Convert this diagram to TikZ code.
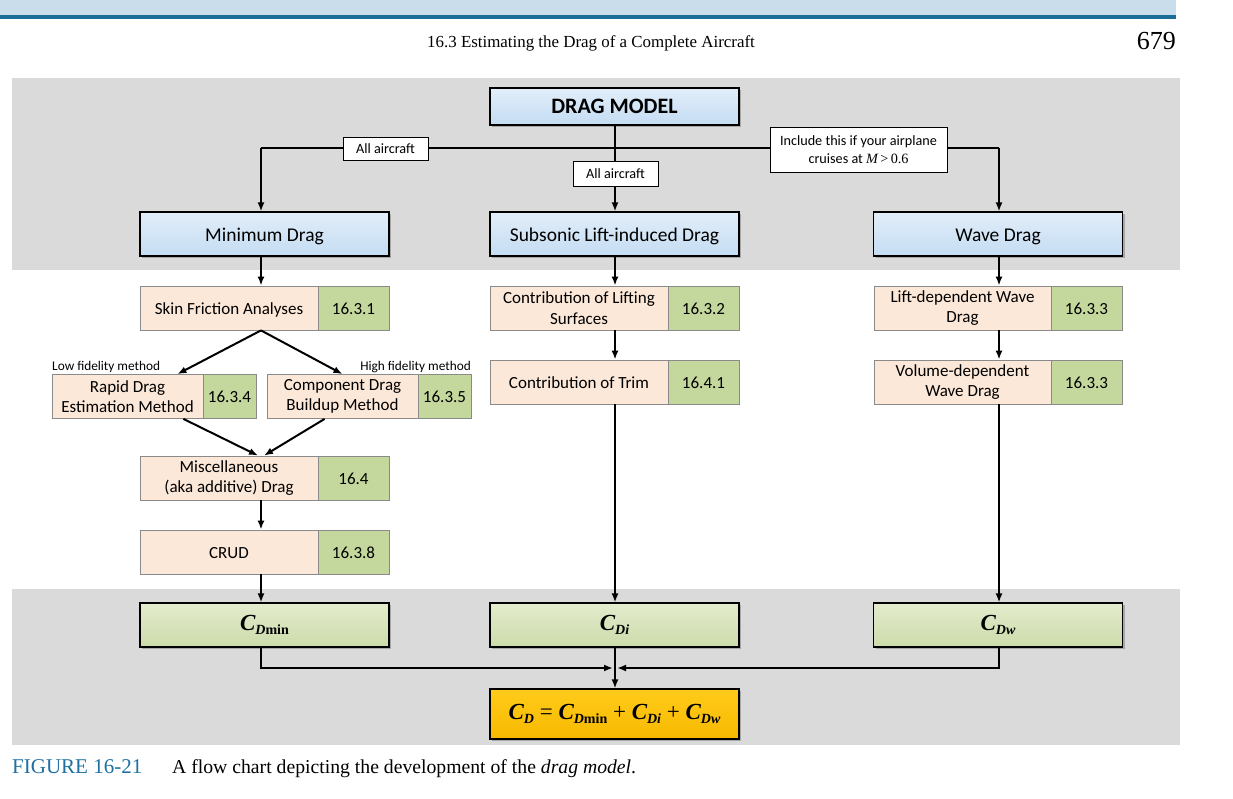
\documentclass[tikz,border=0pt]{standalone}
\usepackage{fontspec}
\setmainfont{Carlito}
\newfontfamily\serif{Liberation Serif}
\usetikzlibrary{arrows.meta,shadows,calc}
\definecolor{hband}{HTML}{C9DDEA}
\definecolor{hline}{HTML}{1A6E98}
\definecolor{capblue}{HTML}{1F6FA3}
\definecolor{panel}{HTML}{DADADA}
\definecolor{bluetop}{HTML}{E2EEFA}
\definecolor{bluebot}{HTML}{C4DCF2}
\definecolor{greentop}{HTML}{E3ECCD}
\definecolor{greenbot}{HTML}{CCDBAA}
\definecolor{goldtop}{HTML}{FFCB1A}
\definecolor{goldbot}{HTML}{F7B900}
\definecolor{peach}{HTML}{FCE8D8}
\definecolor{sect}{HTML}{C4D79D}
\definecolor{peachline}{HTML}{8A8A8A}
\newcommand{\Cs}[1]{{\serif\bfseries\itshape C}\raisebox{-0.45ex}{\serif\bfseries\fontsize{14}{14}\selectfont #1}}
\begin{document}
\begin{tikzpicture}[x=1pt,y=-1pt,
  bigbox/.style={draw=black, line width=1.1pt, inner sep=0pt, drop shadow={shadow xshift=2pt, shadow yshift=-2pt, opacity=0.55}},
  bluebox/.style={bigbox, top color=bluetop, bottom color=bluebot, minimum width=249pt, minimum height=44pt, text height=15pt, text depth=0pt, font=\fontsize{19.5}{22}\selectfont},
  greenbox/.style={bigbox, top color=greentop, bottom color=greenbot, minimum width=249pt, minimum height=44pt, font=\serif\fontsize{23}{26}\selectfont},
  goldbox/.style={bigbox, top color=goldtop, bottom color=goldbot, minimum width=249pt, minimum height=50pt, font=\serif\fontsize{23}{26}\selectfont},
  peachtwo/.style={draw=peachline, line width=0.8pt, fill=peach, inner sep=0pt, minimum height=44pt, align=center, font=\fontsize{17}{20.5}\selectfont},
  peachone/.style={draw=peachline, line width=0.8pt, fill=peach, inner sep=0pt, minimum height=44pt, text height=13.5pt, text depth=0.5pt, font=\fontsize{17}{20.5}\selectfont},
  sectbox/.style={draw=peachline, line width=0.8pt, fill=sect, inner sep=0pt, minimum height=44pt, text height=13.5pt, text depth=0.5pt, font=\fontsize{17}{20.5}\selectfont},
  labelbox/.style={draw=black, line width=0.8pt, fill=white, inner sep=0pt, align=center, font=\fontsize{14.2}{18}\selectfont},
  smalllabel/.style={inner sep=0pt, font=\fontsize{13.3}{15}\selectfont},
  conn/.style={line width=2pt, draw=black},
  arrow/.style={conn, -{Latex[length=9pt,width=7pt]}}]
\useasboundingbox (0,0) rectangle (1233,798);
\fill[white] (0,0) rectangle (1233,798);
% header
\fill[hband] (0,0) rectangle (1176,15);
\fill[hline] (0,15) rectangle (1176,19);
\node[anchor=base, inner sep=0pt, font=\serif\fontsize{16.9}{19}\selectfont] (hdr) at (591,47) {16.3 Estimating the Drag of a Complete Aircraft};
\node[anchor=base east, inner sep=0pt, font=\serif\fontsize{26}{28}\selectfont] (pg) at (1176,49) {679};
% panel
\fill[panel] (12,78) rectangle (1180,745);
\fill[white] (12,270) rectangle (1180,589);
% caption
\node[anchor=base west, inner sep=0pt, text=capblue, font=\serif\fontsize{21}{23}\selectfont] (fig) at (12,773) {FIGURE 16-21};
\node[anchor=base west, inner sep=0pt, font=\serif\fontsize{19.7}{22}\selectfont] (cap) at (172,773) {A flow chart depicting the development of the \textit{drag model}.};
% column coordinates
\coordinate (cL) at (261,0);
\coordinate (cM) at (615,0);
\coordinate (cR) at (999,0);
\coordinate (hL) at (261,148);
\coordinate (hR) at (999,148);
\coordinate (jL) at (261,668);
\coordinate (jM) at (615,668);
\coordinate (jR) at (999,668);
% top nodes
\node[bluebox, minimum height=37pt, text height=14pt, font=\bfseries\fontsize{22}{24}\selectfont] (dm) at (614.5,106.5) {DRAG MODEL};
\node[bluebox] (md) at (264.5,234) {Minimum Drag};
\node[bluebox] (sd) at (614.5,234) {Subsonic Lift-induced Drag};
\node[bluebox] (wd) at (998,234) {Wave Drag};
% left column
\node[peachone, minimum width=178pt] (skin) at (229,308) {Skin Friction Analyses};
\node[sectbox, minimum width=71pt] (skinN) at (353.5,308) {16.3.1};
\node[peachtwo, minimum width=151pt] (rapid) at (127.5,396.5) {Rapid Drag\\Estimation Method};
\node[sectbox, minimum width=53pt] (rapidN) at (229.5,396) {16.3.4};
\node[peachtwo, minimum width=151pt] (comp) at (342.5,396.5) {Component Drag\\Buildup Method};
\node[sectbox, minimum width=53pt] (compN) at (444.5,396) {16.3.5};
\node[smalllabel, anchor=base west] (lowf) at (52,370) {Low fidelity method};
\node[smalllabel, anchor=base east] (highf) at (471,370) {High fidelity method};
\node[peachtwo, minimum width=178pt] (misc) at (229,478) {Miscellaneous\\(aka additive) Drag};
\node[sectbox, minimum width=71pt] (miscN) at (353.5,478) {16.4};
\node[peachone, minimum width=178pt] (crud) at (229,552) {CRUD};
\node[sectbox, minimum width=71pt] (crudN) at (353.5,552) {16.3.8};
% middle column
\node[peachtwo, minimum width=178pt] (lift) at (579,308) {Contribution of Lifting\\Surfaces};
\node[sectbox, minimum width=71pt] (liftN) at (703.5,308) {16.3.2};
\node[peachone, minimum width=178pt] (trim) at (579,382) {Contribution of Trim};
\node[sectbox, minimum width=71pt] (trimN) at (703.5,382) {16.4.1};
% right column
\node[peachtwo, minimum width=177pt] (ldw) at (962.5,308) {Lift-dependent Wave\\Drag};
\node[sectbox, minimum width=71pt] (ldwN) at (1086.5,308) {16.3.3};
\node[peachtwo, minimum width=177pt] (vdw) at (962.5,382) {Volume-dependent\\Wave Drag};
\node[sectbox, minimum width=71pt] (vdwN) at (1086.5,382) {16.3.3};
% result nodes
\node[greenbox] (cmin) at (264.5,625) {\Cs{\textit{D}min}};
\node[greenbox] (cdi) at (614.5,625) {\Cs{\textit{Di}}};
\node[greenbox] (cdw) at (998,625) {\Cs{\textit{Dw}}};
\node[goldbox] (cd) at (614.5,714) {\Cs{\textit{D}} = \Cs{\textit{D}min} + \Cs{\textit{Di}} + \Cs{\textit{Dw}}};
% top connectors
\draw[conn] (hL) -- (hR);
\draw[arrow] (dm.south -| cM) -- (sd.north -| cM);
\draw[arrow] (hL) -- (md.north -| hL);
\draw[arrow] (hR) -- (wd.north -| hR);
\node[labelbox, minimum width=85pt, minimum height=23pt] (all1) at (385.5,148.5) {All aircraft};
\node[labelbox, minimum width=85pt, minimum height=25pt] (all2) at (615.5,173.5) {All aircraft};
\node[labelbox, minimum width=177pt, minimum height=45pt] (incl) at (858.5,149.5) {Include this if your airplane\\cruises at {\serif\itshape M}\,{\serif>\,0.6}};
% left connectors
\draw[arrow] (md.south -| cL) -- (skin.north -| cL);
\draw[arrow] (skin.south -| cL) -- ($(rapid.north east)+(-26,0)$);
\draw[arrow] (skin.south -| cL) -- (comp.north);
\draw[arrow] ($(rapid.south east)+(-20,0)$) -- ($(misc.north -| cL)+(-3,0)$);
\draw[arrow] ($(comp.south west)+(58,0)$) -- ($(misc.north -| cL)+(3,0)$);
\draw[arrow] (misc.south -| cL) -- (crud.north -| cL);
\draw[arrow] (crud.south -| cL) -- (cmin.north -| cL);
% middle connectors
\draw[arrow] (sd.south -| cM) -- (lift.north -| cM);
\draw[arrow] (lift.south -| cM) -- (trim.north -| cM);
\draw[arrow] (trim.south -| cM) -- (cdi.north -| cM);
% right connectors
\draw[arrow] (wd.south -| cR) -- (ldw.north -| cR);
\draw[arrow] (ldw.south -| cR) -- (vdw.north -| cR);
\draw[arrow] (vdw.south -| cR) -- (cdw.north -| cR);
% bottom connectors
\draw[arrow, shorten >=2pt] (cmin.south -| jL) -- (jL) -- (jM);
\draw[arrow, shorten >=2pt] (cdw.south -| jR) -- (jR) -- (jM);
\draw[arrow] (cdi.south -| cM) -- (cd.north -| cM);
\end{tikzpicture}
\end{document}
